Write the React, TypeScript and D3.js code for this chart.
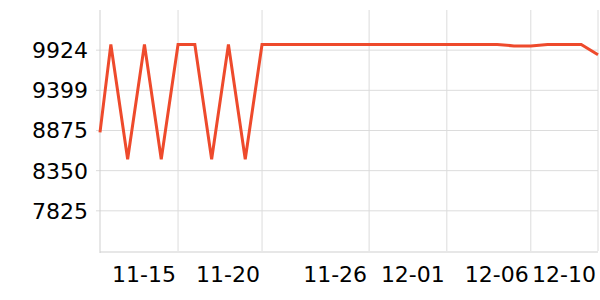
import React from "react";
import * as d3 from "d3";

const dates: string[] = [
  "2023-11-10T08:30", "2023-11-11T00:00", "2023-11-12T00:00", "2023-11-13T00:00",
  "2023-11-14T00:00", "2023-11-15T00:00", "2023-11-16T00:00", "2023-11-17T00:00",
  "2023-11-18T00:00", "2023-11-19T00:00", "2023-11-20T00:00", "2023-11-21T00:00",
  "2023-11-22T00:00", "2023-11-23T00:00", "2023-11-24T00:00", "2023-11-25T00:00",
  "2023-11-26T00:00", "2023-11-27T00:00", "2023-11-28T00:00", "2023-11-29T00:00",
  "2023-11-30T00:00", "2023-12-01T00:00", "2023-12-02T00:00", "2023-12-03T00:00",
  "2023-12-04T00:00", "2023-12-05T00:00", "2023-12-06T00:00", "2023-12-07T00:00",
  "2023-12-08T00:00", "2023-12-09T00:00", "2023-12-10T00:00",
];

const values: number[] = [
  8850, 9999, 8499, 9999, 8499, 9999, 9999, 8499, 9999, 8499,
  9999, 9999, 9999, 9999, 9999, 9999, 9999, 9999, 9999, 9999,
  9999, 9999, 9999, 9999, 9999, 9980, 9980, 9999, 9999, 9999,
  9865,
];

const xTickDates: string[] = [
  "2023-11-15T00:00", "2023-11-20T00:00", "2023-11-26T09:00",
  "2023-12-01T00:00", "2023-12-06T00:00", "2023-12-10T00:00",
];
const xTickLabels: string[] = ["11-15", "11-20", "11-26", "12-01", "12-06", "12-10"];

const yMin = 7300;
const yMax = 10449;
const ySplits = 6;

export default function App() {
  const W = 600, H = 300;
  const left = 100, right = 598, top = 10, bottom = 251;
  const parsed = dates.map((d) => new Date(d));
  const x = d3.scaleTime().domain([parsed[0], parsed[parsed.length - 1]]).range([left, right]);
  const y = d3.scaleLinear().domain([yMin, yMax]).range([bottom, top]);
  const yTicks = d3.range(1, ySplits).map((k) => yMin + (k * (yMax - yMin)) / ySplits);
  const line = d3
    .line<number>()
    .x((_, i) => x(parsed[i]))
    .y((v) => y(v));
  const font = "'DejaVu Sans', sans-serif";
  return (
    <div style={{ position: "fixed", left: 0, top: 0 }}>
      <svg width={W} height={H} style={{ display: "block" }}>
        <rect width={W} height={H} fill="#fff" />
        {yTicks.map((t, i) => (
          <g key={"y" + i}>
            <line x1={left - 4} x2={right} y1={y(t)} y2={y(t)} stroke="#dcdcdc" strokeWidth={1} />
            <text x={left - 12} y={y(t)} dy="0.36em" textAnchor="end" fontFamily={font} fontSize={22} fill="#000">
              {Math.round(t)}
            </text>
          </g>
        ))}
        {xTickDates.map((d, i) => {
          const xp = x(new Date(d));
          return (
            <g key={"x" + i}>
              <line x1={xp} x2={xp} y1={top} y2={bottom} stroke="#dcdcdc" strokeWidth={1} />
              <text x={xp - 2} y={282} textAnchor="end" fontFamily={font} fontSize={22} fill="#000">
                {xTickLabels[i]}
              </text>
            </g>
          );
        })}
        <line x1={left} x2={left} y1={top} y2={bottom + 2} stroke="#cfcfcf" strokeWidth={1} />
        <line x1={left} x2={right} y1={bottom + 1} y2={bottom + 1} stroke="#cfcfcf" strokeWidth={1} />
        <path d={line(values) || ""} fill="none" stroke="#ee4a2c" strokeWidth={3} strokeLinejoin="miter" />
      </svg>
    </div>
  );
}
